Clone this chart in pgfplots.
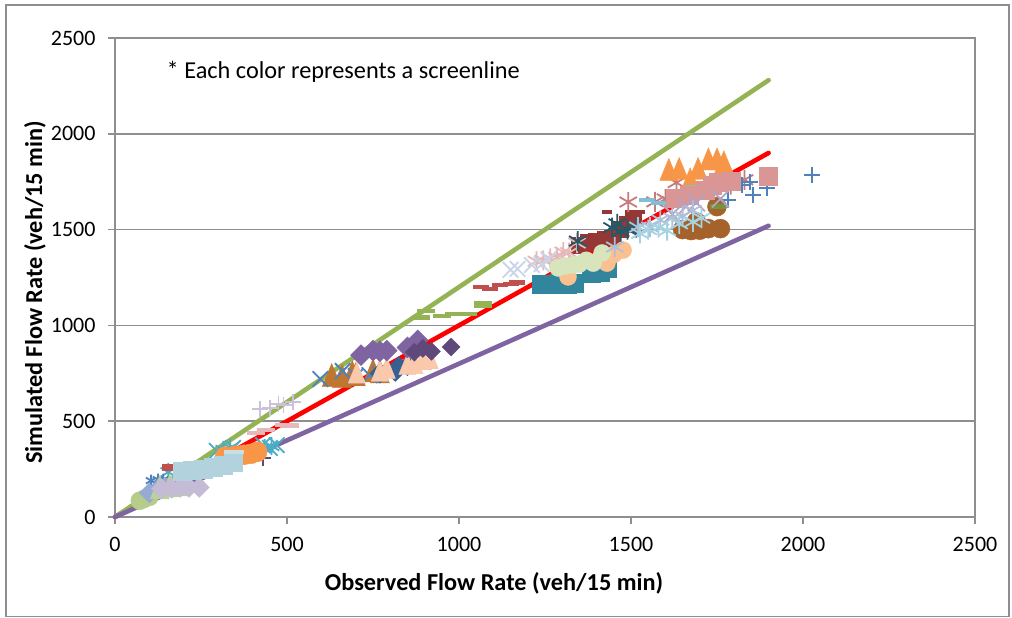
\documentclass[border=0pt]{standalone}
\usepackage{pgfplots}
\pgfplotsset{compat=1.18}
\usepackage{fontspec}
\setmainfont{Carlito}

\definecolor{gridc}{HTML}{8E8E8E}
\newcommand{\hexc}[1]{\definecolor{#1}{HTML}{#1}}
\hexc{5F497A}\hexc{4BACC6}\hexc{4F81BD}\hexc{C0504D}\hexc{F79646}\hexc{B5CC8A}
\hexc{95ABD3}\hexc{BCCF9E}\hexc{C4BBD6}\hexc{B2D2DE}\hexc{C9DEE5}\hexc{E6B9B8}
\hexc{CCC1DA}\hexc{C0762E}\hexc{376092}\hexc{FAC8AB}\hexc{8064A2}\hexc{94B354}
\hexc{31859C}\hexc{953735}\hexc{C9D4E8}\hexc{FAC090}\hexc{D8E4BC}\hexc{215968}
\hexc{A5622A}\hexc{C97B7B}\hexc{7FC0D6}\hexc{D99694}\hexc{76923C}\hexc{B3A2C7}
\hexc{AEBFD8}\hexc{A5D3E2}
\tikzset{
  ser/.style n args={3}{only marks, mark=#1, mark size=#3, draw=#2, fill=#2,
    mark options={solid, draw=#2, fill=#2, line width=0.4pt}},
  dia/.style n args={2}{only marks, mark=diamond*, mark size=#2,
    mark options={solid, draw=#1, fill=#1, line width=0.4pt, xscale=1.33}},
  tri/.style n args={2}{only marks, mark=triangle*, mark size=#2,
    mark options={solid, draw=#1, fill=#1, line width=0.4pt, yscale=1.4}},
  wire/.style n args={3}{only marks, mark=#1, mark size=#3,
    mark options={solid, draw=#2, line width=1.8pt}},
  bar/.style n args={2}{only marks, mark=-, mark size=#2,
    mark options={solid, draw=#1, line width=4.5pt}},
}

\begin{document}
\begin{tikzpicture}[x=1pt,y=1pt]
\path[use as bounding box] (0,0) rectangle (1012,618);
\draw[gridc, line width=1.5pt, fill=white] (6,1.5) rectangle (1009,613);
\begin{axis}[
  at={(115pt,101pt)}, anchor=south west,
  scale only axis, width=860pt, height=479pt,
  xmin=0, xmax=2500, ymin=0, ymax=2500,
  xtick={0,500,...,2500}, ytick={0,500,...,2500},
  ymajorgrids, grid style={gridc, line width=1.7pt},
  axis line style={gridc, line width=1.7pt},
  tick style={gridc, line width=1.7pt},
  tick align=outside, major tick length=7pt,
  axis x line*=bottom, axis y line*=left,
  clip=false,
  tick label style={font=\fontsize{22}{24}\selectfont},
  /pgf/number format/assume math mode=true,
  /pgf/number format/1000 sep={},
  xticklabel style={yshift=-10pt},
  yticklabel style={xshift=-9pt},
  xlabel={\textbf{Observed Flow Rate (veh/15 min)}},
  ylabel={\textbf{Simulated Flow Rate (veh/15 min)}},
  label style={font=\fontsize{24.3}{26}\selectfont},
  xlabel style={at={(axis description cs:0.5,0)}, anchor=center, yshift=-66pt, xshift=-51pt},
  ylabel style={at={(axis description cs:0,0.5)}, anchor=center, yshift=80pt, xshift=-15pt},
]
% right and top edge of the plot area
\addplot[gridc, line width=1.7pt] coordinates {(0,2500) (2500,2500) (2500,0)};

% reference lines
\addplot[color=red, line width=4.6pt, line cap=round] coordinates {(0,0) (1900,1900)};
\addplot[color=94B354, line width=4.6pt, line cap=round] coordinates {(0,0) (1900,2280)};
\addplot[color=8064A2, line width=4.6pt, line cap=round] coordinates {(0,0) (1900,1520)};

% screenlines, bottom of the diagonal
\addplot[wire={+}{5F497A}{8}] coordinates {(430,308) (370,300) (320,285) (260,265)};
\addplot[wire={x}{4BACC6}{11}] coordinates {(296,345) (343,360) (430,375) (450,360) (470,375)};
\addplot[wire={asterisk}{4BACC6}{9}] coordinates {(155,234) (315,350) (335,362) (435,360) (455,370)};
\addplot[wire={asterisk}{4F81BD}{6}] coordinates {(105,190) (125,195) (140,195)};
\addplot[ser={square*}{C0504D}{3}] coordinates {(145,260) (165,262)};
\addplot[ser={*}{F79646}{10}] coordinates {(320,315) (350,320) (375,325) (395,330) (413,340)};
\addplot[ser={*}{B5CC8A}{9}] coordinates {(72,85) (85,95) (100,105)};
\addplot[dia={95ABD3}{10}] coordinates {(100,125) (125,145) (145,155)};
\addplot[tri={BCCF9E}{11}] coordinates {(130,135) (160,145) (190,150)};
\addplot[dia={C4BBD6}{10}] coordinates {(135,148) (165,150) (190,155) (215,155) (245,155)};
\addplot[ser={square*}{B2D2DE}{9}] coordinates {(195,240) (225,245) (255,250) (285,260) (315,270) (345,287)};
\addplot[bar={C9DEE5}{10}] coordinates {(345,338)};
\addplot[bar={E6B9B8}{9}] coordinates {(410,438) (440,455) (490,480) (510,478)};
\addplot[wire={+}{CCC1DA}{8}] coordinates {(421,565) (450,570) (475,590) (490,585) (517,600)};

% middle of the diagonal
\addplot[tri={C0762E}{11}] coordinates {(630,720) (660,715) (690,735) (700,725) (750,745) (770,740)};
\addplot[wire={x}{4F81BD}{11}] coordinates {(597,720) (662,762) (700,735) (740,740) (770,745)};
\addplot[dia={376092}{10}] coordinates {(770,750) (815,760) (825,785) (850,790)};
\addplot[tri={FAC8AB}{10}] coordinates {(703,735) (770,745) (790,760) (850,780) (870,785) (895,805) (915,810)};
\addplot[dia={8064A2}{10.5}] coordinates {(715,845) (750,868) (770,865) (790,868) (850,885) (880,922)};
\addplot[dia={5F497A}{9}] coordinates {(870,860) (895,880) (920,865) (977,887)};
\addplot[bar={94B354}{9}] coordinates {(890,1040) (905,1075) (950,1050) (985,1060) (1025,1060) (1070,1115) (1070,1105)};
\addplot[bar={C0504D}{8}] coordinates {(1065,1200) (1090,1190) (1120,1210) (1150,1215) (1170,1225)};

% upper end
\addplot[ser={square*}{31859C}{9}] coordinates {(1238,1216) (1262,1216) (1290,1218) (1315,1216) (1335,1220) (1385,1270) (1410,1280) (1430,1298)};
\addplot[ser={square*}{953735}{8}] coordinates {(1350,1420) (1375,1435) (1400,1440) (1425,1450) (1445,1455) (1470,1500) (1490,1530) (1505,1560)};
\addplot[bar={953735}{5}] coordinates {(1430,1592) (1526,1592)};
\addplot[wire={asterisk}{E6B9B8}{10}] coordinates {(1225,1335) (1245,1340) (1265,1350) (1285,1355) (1303,1383) (1320,1380) (1343,1430)};
\addplot[wire={x}{C9D4E8}{11}] coordinates {(1150,1290) (1170,1295) (1212,1315) (1240,1320) (1260,1345)};
\addplot[ser={*}{FAC090}{8.5}] coordinates {(1317,1253) (1430,1325) (1450,1370) (1477,1393)};
\addplot[ser={*}{D8E4BC}{8.5}] coordinates {(1288,1300) (1310,1310) (1331,1315) (1350,1320) (1370,1340) (1390,1325) (1416,1378)};
\addplot[wire={asterisk}{215968}{10}] coordinates {(1345,1440) (1445,1510) (1470,1490) (1490,1500) (1515,1510) (1460,1530)};
\addplot[ser={*}{A5622A}{9.5}] coordinates {(1650,1500) (1675,1495) (1700,1497) (1725,1505) (1760,1505) (1690,1540) (1750,1620)};
\addplot[wire={asterisk}{C97B7B}{10}] coordinates {(1492,1644) (1570,1645) (1632,1745) (1600,1660) (1830,1760) (1790,1735)};
\addplot[tri={F79646}{10.5}] coordinates {(1610,1795) (1640,1800) (1672,1745) (1695,1800) (1725,1850) (1750,1850) (1770,1835)};
\addplot[bar={7FC0D6}{8}] coordinates {(1546,1654) (1580,1640) (1680,1720)};
\addplot[wire={+}{4F81BD}{8}] coordinates {(2026,1785) (1895,1717) (1855,1680) (1846,1748) (1822,1733) (1782,1654)};
\addplot[ser={square*}{D99694}{9}] coordinates {(1628,1665) (1670,1680) (1715,1707) (1735,1730) (1753,1748) (1790,1750) (1898,1780)};
\addplot[bar={76923C}{8}] coordinates {(1752,1620)};
\addplot[wire={x}{B3A2C7}{12}] coordinates {(1620,1580) (1660,1620) (1690,1640) (1760,1660)};
\addplot[wire={asterisk}{AEBFD8}{10}] coordinates {(1453,1409) (1520,1513) (1555,1513) (1585,1550) (1620,1560) (1650,1570) (1680,1600)};
\addplot[wire={asterisk}{A5D3E2}{10}] coordinates {(1526,1480) (1550,1500) (1580,1510) (1605,1495) (1640,1530) (1680,1540) (1705,1560)};

\node[anchor=west, font=\fontsize{24.3}{26}\selectfont] at (axis cs:140,2325) {* Each color represents a screenline};
\end{axis}
\end{tikzpicture}
\end{document}
